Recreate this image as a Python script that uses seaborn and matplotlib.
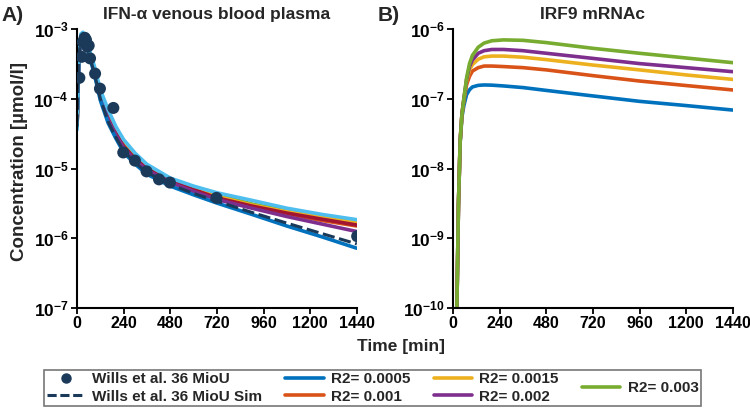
import numpy as np
import pandas as pd
import seaborn as sns
import matplotlib.pyplot as plt
from matplotlib.lines import Line2D

# colores (paleta por defecto de MATLAB)
c_azul = '#0072BD'
c_naranja = '#D95319'
c_amarillo = '#EDB120'
c_morado = '#7E2F8E'
c_verde = '#77AC30'
c_celeste = '#4DBEEE'
c_rojo = '#A2142F'
c_datos = '#1B3A5A'

# Panel A: datos medidos (Wills et al.)
t_datos = [12, 24, 30, 40, 46, 53, 60, 67, 93, 118, 187, 238, 298, 358, 422, 478, 718, 1442]
c_datos_val = [2.0e-4, 4.0e-4, 6.5e-4, 7.5e-4, 7.0e-4, 5.6e-4, 5.8e-4, 3.8e-4, 2.3e-4, 1.4e-4,
               7.4e-5, 1.7e-5, 1.3e-5, 9.1e-6, 7.0e-6, 6.3e-6, 3.8e-6, 1.07e-6]

# Panel A: simulaciones
t_a = [0, 10, 20, 30, 40, 60, 90, 120, 160, 200, 240, 300, 360, 480, 600, 720, 900, 1080, 1260, 1440]
a_azul = [4e-5, 4e-4, 8e-4, 8.5e-4, 7e-4, 4.5e-4, 2.2e-4, 9.5e-5, 4.5e-5, 2.7e-5, 1.7e-5, 1.15e-5,
          8.3e-6, 5.6e-6, 4.2e-6, 3.2e-6, 2.2e-6, 1.5e-6, 1.05e-6, 7.2e-7]
a_sim = [4e-5, 4e-4, 8e-4, 8.6e-4, 7.1e-4, 4.6e-4, 2.3e-4, 1.0e-4, 4.7e-5, 2.8e-5, 1.8e-5, 1.2e-5,
         8.8e-6, 5.9e-6, 4.4e-6, 3.4e-6, 2.35e-6, 1.65e-6, 1.17e-6, 8.3e-7]
a_morado = [4e-5, 4e-4, 8e-4, 8.6e-4, 7.2e-4, 4.8e-4, 2.4e-4, 1.05e-4, 5.0e-5, 3.0e-5, 2.0e-5, 1.3e-5,
            9.5e-6, 6.3e-6, 4.7e-6, 3.6e-6, 2.7e-6, 2.05e-6, 1.6e-6, 1.25e-6]
a_naranja = [4e-5, 4e-4, 8e-4, 8.6e-4, 7.2e-4, 4.8e-4, 2.4e-4, 1.07e-4, 5.1e-5, 3.1e-5, 2.05e-5, 1.35e-5,
             9.8e-6, 6.5e-6, 4.9e-6, 3.75e-6, 2.85e-6, 2.25e-6, 1.8e-6, 1.5e-6]
a_rojo = [4e-5, 4e-4, 8e-4, 8.6e-4, 7.3e-4, 4.9e-4, 2.5e-4, 1.1e-4, 5.2e-5, 3.2e-5, 2.1e-5, 1.38e-5,
          1.0e-5, 6.6e-6, 5.0e-6, 3.8e-6, 2.9e-6, 2.3e-6, 1.88e-6, 1.55e-6]
a_amarillo = [4e-5, 4e-4, 8e-4, 8.7e-4, 7.4e-4, 5.0e-4, 2.6e-4, 1.18e-4, 5.6e-5, 3.4e-5, 2.3e-5, 1.5e-5,
              1.08e-5, 7.0e-6, 5.2e-6, 4.0e-6, 3.0e-6, 2.4e-6, 2.0e-6, 1.7e-6]
a_verde = [4e-5, 4e-4, 8e-4, 8.8e-4, 7.5e-4, 5.2e-4, 2.7e-4, 1.25e-4, 6.0e-5, 3.6e-5, 2.4e-5, 1.55e-5,
           1.1e-5, 7.1e-6, 5.4e-6, 4.2e-6, 3.1e-6, 2.5e-6, 2.1e-6, 1.8e-6]
a_celeste = [3.6e-5, 4.5e-4, 8.5e-4, 9.0e-4, 7.8e-4, 5.5e-4, 2.9e-4, 1.35e-4, 7.0e-5, 4.0e-5, 2.6e-5, 1.65e-5,
             1.15e-5, 7.3e-6, 5.6e-6, 4.5e-6, 3.5e-6, 2.7e-6, 2.2e-6, 1.85e-6]

# Panel B: IRF9 mRNAc
t_b = [20, 28, 37, 46, 56, 70, 85, 100, 130, 160, 200, 260, 360, 480, 720, 960, 1200, 1440]
b_azul = [1e-10, 3e-9, 2.4e-8, 5.5e-8, 8e-8, 1.15e-7, 1.35e-7, 1.48e-7, 1.56e-7, 1.58e-7, 1.57e-7,
          1.53e-7, 1.45e-7, 1.32e-7, 1.1e-7, 9.2e-8, 8e-8, 6.9e-8]
b_naranja = [1e-10, 3e-9, 2.5e-8, 6e-8, 9.5e-8, 1.6e-7, 2.1e-7, 2.5e-7, 2.8e-7, 2.95e-7, 2.95e-7,
             2.9e-7, 2.8e-7, 2.6e-7, 2.15e-7, 1.8e-7, 1.55e-7, 1.34e-7]
b_amarillo = [1e-10, 3e-9, 2.5e-8, 6e-8, 1e-7, 1.8e-7, 2.6e-7, 3.1e-7, 3.7e-7, 4.0e-7, 4.1e-7,
              4.1e-7, 3.95e-7, 3.65e-7, 3.05e-7, 2.6e-7, 2.2e-7, 1.9e-7]
b_morado = [1e-10, 3e-9, 2.5e-8, 6e-8, 1e-7, 1.9e-7, 2.9e-7, 3.6e-7, 4.5e-7, 4.9e-7, 5.1e-7,
            5.1e-7, 4.9e-7, 4.5e-7, 3.8e-7, 3.2e-7, 2.8e-7, 2.45e-7]
b_verde = [1e-10, 3e-9, 2.5e-8, 6e-8, 1e-7, 2.0e-7, 3.2e-7, 4.2e-7, 5.5e-7, 6.3e-7, 6.8e-7,
           7.0e-7, 6.9e-7, 6.4e-7, 5.3e-7, 4.5e-7, 3.85e-7, 3.3e-7]

etiquetas_r2 = ['R2= 0.0005', 'R2= 0.001', 'R2= 0.0015', 'R2= 0.002', 'R2= 0.003']
xticks = [0, 240, 480, 720, 960, 1200, 1440]

sns.set_style('ticks')
plt.rcParams['font.family'] = ['Liberation Sans', 'DejaVu Sans']
plt.rcParams['font.weight'] = 'bold'
plt.rcParams['mathtext.fontset'] = 'custom'
plt.rcParams['mathtext.rm'] = 'Liberation Sans:bold'
plt.rcParams['mathtext.bf'] = 'Liberation Sans:bold'
plt.rcParams['mathtext.default'] = 'bf'

fig = plt.figure(figsize=(7.5, 4.12), dpi=100)
ax1 = fig.add_axes([0.1027, 0.2524, 0.373, 0.677])
ax2 = fig.add_axes([0.604, 0.2524, 0.373, 0.677])

# Panel A
df_a = pd.DataFrame({'t': t_a, 'celeste': a_celeste, 'verde': a_verde, 'amarillo': a_amarillo,
                     'naranja': a_naranja, 'rojo': a_rojo, 'morado': a_morado, 'azul': a_azul})
for col, color in [('verde', c_verde), ('naranja', c_naranja), ('amarillo', c_amarillo),
                   ('rojo', c_rojo), ('morado', c_morado), ('azul', c_azul), ('celeste', c_celeste)]:
    sns.lineplot(data=df_a, x='t', y=col, color=color, lw=2.6, ax=ax1)
df_sim = pd.DataFrame({'t': t_a, 'c': a_sim})
sns.lineplot(data=df_sim, x='t', y='c', color=c_datos, lw=2.2, ls=(0, (4, 1.5)), ax=ax1)
df_d = pd.DataFrame({'t': t_datos, 'c': c_datos_val})
sns.scatterplot(data=df_d, x='t', y='c', color=c_datos, s=75, edgecolor='none', zorder=5, ax=ax1)
ax1.set_title('IFN-α venous blood plasma', fontsize=12.5, fontweight='bold', pad=7)
ax1.set_ylim(1e-7, 1e-3)

# Panel B
df_b = pd.DataFrame({'t': t_b, 'azul': b_azul, 'naranja': b_naranja, 'amarillo': b_amarillo,
                     'morado': b_morado, 'verde': b_verde})
for col, color in [('azul', c_azul), ('naranja', c_naranja), ('amarillo', c_amarillo),
                   ('morado', c_morado), ('verde', c_verde)]:
    sns.lineplot(data=df_b, x='t', y=col, color=color, lw=2.6, ax=ax2)
ax2.set_title('IRF9 mRNAc', fontsize=12.5, fontweight='bold', pad=7)
ax2.set_ylim(1e-10, 1e-6)

for ax in [ax1, ax2]:
    ax.set_yscale('log')
    ax.set_xlim(0, 1440)
    ax.set_xticks(xticks)
    ax.set_xticklabels([str(x) for x in xticks], fontsize=11.5, fontweight='bold')
    ax.minorticks_off()
    lo, hi = [int(round(np.log10(v))) for v in ax.get_ylim()]
    yt = [10.0 ** e for e in range(lo, hi + 1)]
    ax.set_yticks(yt)
    ax.set_yticklabels([r'$10^{%d}$' % e for e in range(lo, hi + 1)], fontsize=12.5)
    ax.set_xlabel('')
    ax.set_ylabel('')
    ax.tick_params(direction='out', length=4, width=1.3, colors='black', pad=2)
    for s in ['left', 'bottom']:
        ax.spines[s].set_linewidth(1.5)
        ax.spines[s].set_color('black')
    sns.despine(ax=ax)

fig.text(0.002, 0.963, 'A)', fontsize=15, fontweight='bold', va='center')
fig.text(0.503, 0.963, 'B)', fontsize=15, fontweight='bold', va='center')
fig.text(0.026, 0.607, 'Concentration [µmol/l]', fontsize=13.5, fontweight='bold', rotation=90,
         va='center', ha='center')
fig.text(0.535, 0.158, 'Time [min]', fontsize=12.5, fontweight='bold', ha='center', va='center')

# Leyenda
h_datos = Line2D([], [], marker='o', ls='none', color=c_datos, markersize=6.5)
h_sim = Line2D([], [], color=c_datos, lw=2.2, ls=(0, (3, 1.2)))
h_r2 = [Line2D([], [], color=c, lw=2.6) for c in [c_azul, c_naranja, c_amarillo, c_morado, c_verde]]
handles = [h_datos, h_sim] + h_r2
labels = ['Wills et al. 36 MioU', 'Wills et al. 36 MioU Sim'] + etiquetas_r2
leg = fig.legend(handles, labels, ncol=4, loc='center', bbox_to_anchor=(0.4967, 0.0583),
                 frameon=True, fancybox=False, edgecolor='#555555',
                 handlelength=2.5, columnspacing=1.5, labelspacing=0.2, borderpad=0.15,
                 handletextpad=0.5, prop={'weight': 'bold', 'size': 11})
leg.get_frame().set_linewidth(1.2)
# centrar verticalmente la ultima columna (R2= 0.003)
leg._legend_handle_box.align = 'center'

fig.savefig('out.png', dpi=100)
